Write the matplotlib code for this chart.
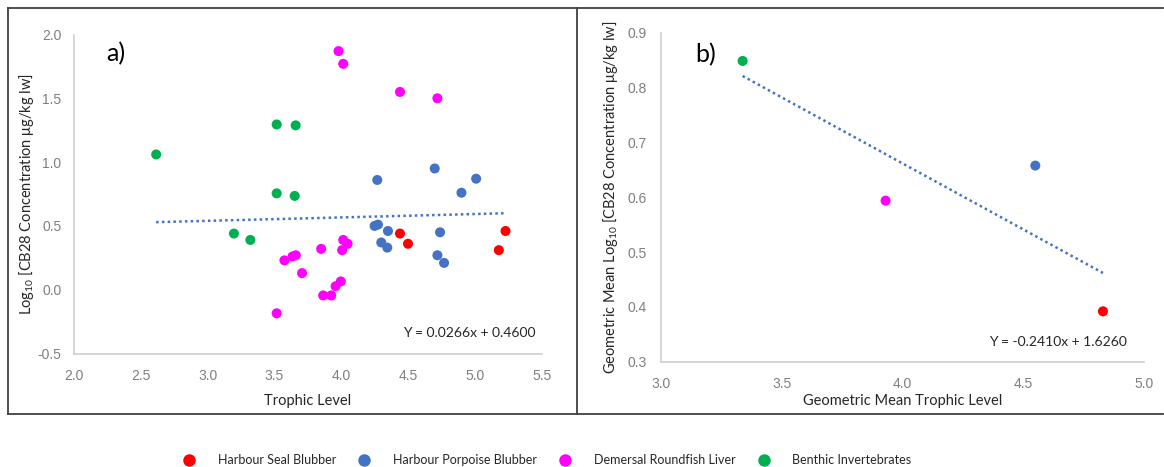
import matplotlib
matplotlib.use("Agg")
import matplotlib.pyplot as plt
import numpy as np
from matplotlib.lines import Line2D

plt.rcParams['font.family'] = ['Lato', 'DejaVu Sans']
plt.rcParams['mathtext.fontset'] = 'custom'
plt.rcParams['mathtext.rm'] = 'Lato'
plt.rcParams['mathtext.it'] = 'Lato:italic'

# ---------------- data (panel a) ----------------
seal_tl = [4.44, 4.50, 5.23, 5.18]
seal_c = [0.44, 0.36, 0.46, 0.31]

porpoise_tl = [4.27, 4.70, 5.01, 4.90, 4.25, 4.275, 4.35, 4.30, 4.345, 4.74, 4.72, 4.77]
porpoise_c = [0.86, 0.95, 0.87, 0.76, 0.50, 0.51, 0.46, 0.37, 0.33, 0.45, 0.27, 0.21]

fish_tl = [3.98, 4.015, 4.44, 4.72, 3.575, 3.635, 3.66, 3.707, 3.85, 3.865, 3.925,
           3.958, 3.997, 4.007, 4.015, 4.048, 3.517]
fish_c = [1.87, 1.77, 1.55, 1.50, 0.23, 0.26, 0.27, 0.13, 0.32, -0.045, -0.045,
          0.027, 0.065, 0.31, 0.39, 0.36, -0.185]

benthic_tl = [2.615, 3.517, 3.659, 3.517, 3.652, 3.197, 3.32]
benthic_c = [1.06, 1.295, 1.288, 0.755, 0.735, 0.44, 0.39]

slope_a, intercept_a = 0.0266, 0.4600

# ---------------- data (panel b) ----------------
mean_tl = [4.83, 4.55, 3.93, 3.338]
mean_c = [0.392, 0.658, 0.594, 0.849]
slope_b, intercept_b = -0.2410, 1.6260

group_names = ["Harbour Seal Blubber", "Harbour Porpoise Blubber",
               "Demersal Roundfish Liver", "Benthic Invertebrates"]
group_colors = ["#FF0000", "#4472C4", "#FF00FF", "#00B050"]

xticks_a = [2.0, 2.5, 3.0, 3.5, 4.0, 4.5, 5.0, 5.5]
yticks_a = [-0.5, 0.0, 0.5, 1.0, 1.5, 2.0]
xticks_b = [3.0, 3.5, 4.0, 4.5, 5.0]
yticks_b = [0.3, 0.4, 0.5, 0.6, 0.7, 0.8, 0.9]

W, H = 1164, 467
fig = plt.figure(figsize=(W / 100, H / 100), dpi=100)

def fx(px):
    return px / W

def fy(py):
    return 1 - py / H

axA = fig.add_axes([fx(74), fy(353.5), fx(541.6) - fx(74), fy(34.5) - fy(353.5)])
axB = fig.add_axes([fx(661), fy(361.7), fx(1144) - fx(661), fy(33) - fy(361.7)])

spine_col = "#D0D0D0"
tick_col = "#7F7F7F"
ms = 52

def style(ax):
    for s in ['top', 'right']:
        ax.spines[s].set_visible(False)
    for s in ['left', 'bottom']:
        ax.spines[s].set_color(spine_col)
        ax.spines[s].set_linewidth(1.2)
    ax.tick_params(length=0, labelcolor=tick_col, labelsize=10)
    for lab in ax.get_xticklabels() + ax.get_yticklabels():
        lab.set_fontfamily('Liberation Sans')

# panel a
series = [(seal_tl, seal_c), (porpoise_tl, porpoise_c), (fish_tl, fish_c), (benthic_tl, benthic_c)]
for (x, y), col in zip(series, group_colors):
    axA.scatter(x, y, s=ms, color=col, edgecolors='none', zorder=3)
all_x = np.concatenate([np.array(s[0]) for s in series])
xl = np.array([all_x.min(), all_x.max()])
axA.plot(xl, slope_a * xl + intercept_a, linestyle=(0, (1, 1.3)), color="#4472C4", lw=1.8, zorder=2)
axA.set_xlim(2.0, 5.5)
axA.set_ylim(-0.5, 2.0)
axA.set_xticks(xticks_a)
axA.set_yticks(yticks_a)
axA.set_xticklabels([f"{v:.1f}" for v in xticks_a])
axA.set_yticklabels([f"{v:.1f}" for v in yticks_a])
axA.tick_params(axis='x', pad=11)
axA.tick_params(axis='y', pad=9)
style(axA)
axA.set_xlabel("Trophic Level", fontsize=10.5, color="#262626", labelpad=8)
axA.set_ylabel("Log$_{10}$ [CB28 Concentration μg/kg lw]", fontsize=10.5, color="#262626", labelpad=1)
axA.text(0.07, 0.94, "a)", transform=axA.transAxes, fontsize=18, ha='left', va='center', color='black')
axA.text(0.988, 0.064, f"Y = {slope_a:.4f}x + {intercept_a:.4f}", transform=axA.transAxes,
         fontsize=10, ha='right', va='center', color='#262626')

# panel b
for x, y, col in zip(mean_tl, mean_c, group_colors):
    axB.scatter([x], [y], s=ms, color=col, edgecolors='none', zorder=3)
xb = np.array([min(mean_tl), max(mean_tl)])
axB.plot(xb, slope_b * xb + intercept_b, linestyle=(0, (1, 1.3)), color="#4472C4", lw=1.8, zorder=2)
axB.set_xlim(3.0, 5.0)
axB.set_ylim(0.3, 0.9)
axB.set_xticks(xticks_b)
axB.set_yticks(yticks_b)
axB.set_xticklabels([f"{v:.1f}" for v in xticks_b])
axB.set_yticklabels([f"{v:.1f}" for v in yticks_b])
axB.tick_params(axis='x', pad=11)
axB.tick_params(axis='y', pad=10)
style(axB)
axB.set_xlabel("Geometric Mean Trophic Level", fontsize=10.5, color="#262626", labelpad=2)
axB.set_ylabel("Geometric Mean Log$_{10}$ [CB28 Concentration μg/kg lw]", fontsize=10.5,
               color="#262626", labelpad=6)
axB.text(0.07, 0.935, "b)", transform=axB.transAxes, fontsize=18, ha='left', va='center', color='black')
axB.text(0.965, 0.061, f"Y = {slope_b:.4f}x + {intercept_b:.4f}", transform=axB.transAxes,
         fontsize=10, ha='right', va='center', color='#262626')

# frames
frame_col = "#404040"
for xs, ys in [([fx(8), fx(1163)], [fy(8), fy(8)]),
               ([fx(8), fx(1163)], [fy(414), fy(414)]),
               ([fx(8), fx(8)], [fy(8), fy(414)]),
               ([fx(577), fx(577)], [fy(8), fy(414)])]:
    fig.add_artist(Line2D(xs, ys, color=frame_col, lw=1.3, transform=fig.transFigure))

# legend
handles = [Line2D([], [], marker='o', linestyle='none', markersize=9, markerfacecolor=c,
                  markeredgecolor='none') for c in group_colors]
leg = fig.legend(handles, group_names, loc='center', bbox_to_anchor=(fx(547), fy(460.5)),
                 ncol=4, frameon=False, fontsize=9, handletextpad=1.8, columnspacing=1.75,
                 handlelength=1.0, borderaxespad=0, borderpad=0)
for t in leg.get_texts():
    t.set_color("#262626")

fig.savefig("out.png", dpi=100)
